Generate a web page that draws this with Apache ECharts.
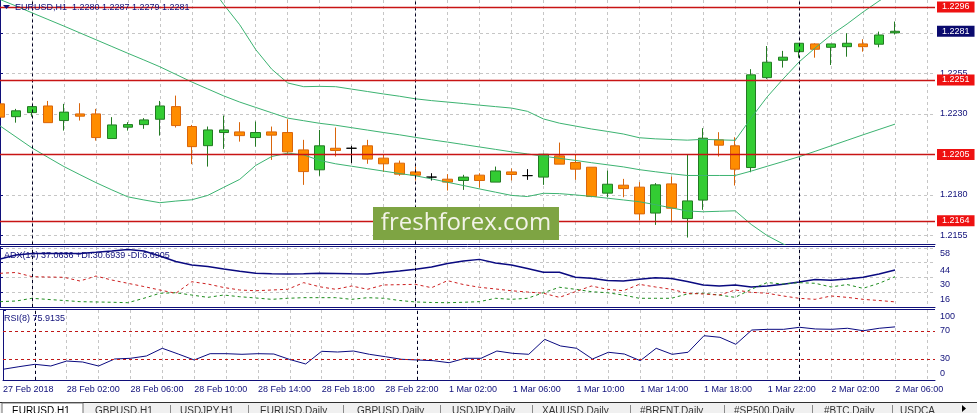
<!DOCTYPE html>
<html><head><meta charset="utf-8">
<script src="https://cdn.jsdelivr.net/npm/echarts@6/dist/echarts.min.js"></script>
<style>html,body{margin:0;padding:0;background:#fff;overflow:hidden}#c{width:977px;height:413px}</style>
</head><body><div id="c"></div>
<script>
const times = [
'2018-02-27 22:00','2018-02-27 23:00',
'2018-02-28 00:00','2018-02-28 01:00','2018-02-28 02:00','2018-02-28 03:00','2018-02-28 04:00','2018-02-28 05:00',
'2018-02-28 06:00','2018-02-28 07:00','2018-02-28 08:00','2018-02-28 09:00','2018-02-28 10:00','2018-02-28 11:00',
'2018-02-28 12:00','2018-02-28 13:00','2018-02-28 14:00','2018-02-28 15:00','2018-02-28 16:00','2018-02-28 17:00',
'2018-02-28 18:00','2018-02-28 19:00','2018-02-28 20:00','2018-02-28 21:00','2018-02-28 22:00','2018-02-28 23:00',
'2018-03-01 00:00','2018-03-01 01:00','2018-03-01 02:00','2018-03-01 03:00','2018-03-01 04:00','2018-03-01 05:00',
'2018-03-01 06:00','2018-03-01 07:00','2018-03-01 08:00','2018-03-01 09:00','2018-03-01 10:00','2018-03-01 11:00',
'2018-03-01 12:00','2018-03-01 13:00','2018-03-01 14:00','2018-03-01 15:00','2018-03-01 16:00','2018-03-01 17:00',
'2018-03-01 18:00','2018-03-01 19:00','2018-03-01 20:00','2018-03-01 21:00','2018-03-01 22:00','2018-03-01 23:00',
'2018-03-02 00:00','2018-03-02 01:00','2018-03-02 02:00','2018-03-02 03:00','2018-03-02 04:00','2018-03-02 05:00',
'2018-03-02 06:00'];

const open = [
1.22362,1.22283,1.22308,1.22349,1.22259,1.22300,1.22300,1.22148,1.22218,1.22234,
1.22267,1.22345,1.22222,1.22104,1.22185,1.22189,1.22154,1.22189,1.22185,1.22078,
1.21955,1.22088,1.22088,1.22103,1.22027,1.21996,1.21942,1.21910,1.21897,1.21889,
1.21922,1.21879,1.21942,1.21919,1.21910,1.22041,1.22000,1.21971,1.21811,1.21860,
1.21848,1.21688,1.21868,1.21654,1.21768,1.22140,1.22103,1.21969,1.22524,1.22631,
1.22684,1.22732,1.22711,1.22715,1.22732,1.22730,1.22800];
const close = [
1.22280,1.22319,1.22345,1.22246,1.22311,1.22286,1.22154,1.22232,1.22234,1.22263,
1.22349,1.22228,1.22098,1.22201,1.22201,1.22166,1.22185,1.22169,1.22066,1.21944,
1.22103,1.22074,1.22088,1.22021,1.21992,1.21928,1.21922,1.21910,1.21879,1.21910,
1.21889,1.21948,1.21926,1.21919,1.22051,1.21990,1.21959,1.21790,1.21866,1.21839,
1.21683,1.21862,1.21718,1.21763,1.22150,1.22107,1.21959,1.22541,1.22619,1.22650,
1.22736,1.22699,1.22732,1.22736,1.22715,1.22787,1.22810];
const low = [
1.22263,1.22246,1.22283,1.22246,1.22197,1.22259,1.22135,1.22148,1.22197,1.22208,
1.22166,1.22216,1.21990,1.21975,1.22084,1.22129,1.22098,1.22016,1.22053,1.21862,
1.21918,1.22037,1.21996,1.21992,1.21942,1.21918,1.21889,1.21889,1.21827,1.21831,
1.21845,1.21879,1.21889,1.21893,1.21862,1.21990,1.21893,1.21786,1.21786,1.21786,
1.21642,1.21615,1.21636,1.21537,1.21708,1.22037,1.21858,1.21940,1.22516,1.22586,
1.22647,1.22647,1.22602,1.22653,1.22684,1.22711,1.22790];
const high = [
1.22380,1.22331,1.22349,1.22380,1.22362,1.22366,1.22331,1.22280,1.22249,1.22274,
1.22380,1.22413,1.22232,1.22222,1.22290,1.22249,1.22253,1.22222,1.22267,1.22140,
1.22201,1.22216,1.22103,1.22140,1.22047,1.22012,1.21975,1.21934,1.21928,1.21924,
1.21934,1.21975,1.21963,1.21959,1.22055,1.22123,1.22047,1.21971,1.21950,1.21899,
1.21879,1.21873,1.21913,1.22051,1.22212,1.22187,1.22156,1.22576,1.22719,1.22689,
1.22736,1.22736,1.22732,1.22798,1.22761,1.22808,1.22870];

const bbUpper = [
1.23787,1.23773,1.23758,1.23734,1.23708,1.23676,1.23641,1.23602,1.23561,1.23496,
1.23429,1.23325,1.23225,1.23111,1.22975,1.22850,1.22697,1.22576,1.22491,1.22468,
1.22470,1.22468,1.22453,1.22438,1.22423,1.22409,1.22393,1.22382,1.22373,1.22364,
1.22354,1.22345,1.22336,1.22316,1.22269,1.22243,1.22225,1.22207,1.22192,1.22176,
1.22153,1.22146,1.22142,1.22138,1.22143,1.22140,1.22137,1.22275,1.22405,1.22516,
1.22621,1.22707,1.22787,1.22855,1.22929,1.22997,1.23059];
const bbMiddle = [
1.23006,1.22966,1.22924,1.22883,1.22842,1.22800,1.22758,1.22716,1.22674,1.22633,
1.22591,1.22544,1.22497,1.22454,1.22411,1.22373,1.22340,1.22307,1.22274,1.22258,
1.22242,1.22230,1.22215,1.22200,1.22185,1.22171,1.22155,1.22140,1.22126,1.22111,
1.22096,1.22081,1.22066,1.22053,1.22039,1.22026,1.22013,1.21999,1.21986,1.21973,
1.21956,1.21943,1.21931,1.21920,1.21920,1.21920,1.21920,1.21947,1.21977,1.22006,
1.22036,1.22069,1.22103,1.22137,1.22171,1.22204,1.22237];
const bbLower = [
1.22226,1.22158,1.22090,1.22032,1.21975,1.21925,1.21876,1.21831,1.21788,1.21769,
1.21752,1.21762,1.21770,1.21797,1.21847,1.21896,1.21982,1.22037,1.22058,1.22047,
1.22013,1.21992,1.21977,1.21962,1.21947,1.21932,1.21918,1.21899,1.21878,1.21858,
1.21837,1.21817,1.21797,1.21790,1.21810,1.21808,1.21800,1.21791,1.21780,1.21769,
1.21758,1.21740,1.21720,1.21701,1.21696,1.21699,1.21702,1.21618,1.21549,1.21497,
1.21451,1.21432,1.21419,1.21419,1.21412,1.21412,1.21414];

const adx = [
47.5,51.3,52.8,52.8,52.8,52.8,53.9,55.1,56.6,55.1,
50.4,45.1,41.8,40.4,38.0,35.8,33.9,33.5,33.2,33.5,
33.9,33.7,33.4,33.2,34.7,36.1,37.7,39.9,43.2,45.6,
47.2,43.7,41.8,38.5,34.9,34.9,30.1,29.1,27.0,26.6,
28.2,29.7,29.0,26.1,22.8,21.8,22.8,20.9,21.8,23.4,
25.6,28.0,27.2,28.5,30.1,33.2,37.0636];
const plusDi = [
6.9,7.5,10.1,9.0,8.0,6.9,6.6,6.3,5.9,10.1,
14.9,15.4,13.2,11.0,13.2,11.6,10.4,9.1,10.1,10.7,
10.7,10.7,9.1,10.7,10.1,8.0,6.6,6.1,5.9,6.3,
6.9,10.1,9.1,10.1,15.4,20.6,18.7,16.4,15.4,13.2,
10.1,10.1,10.1,14.2,14.9,13.2,11.0,18.7,25.1,23.7,
25.0,24.4,20.9,23.2,19.6,24.4,30.6939];
const minusDi = [
33.9,34.7,30.7,30.4,30.1,26.6,31.3,27.5,24.4,21.3,
18.0,14.9,25.9,23.7,20.4,18.0,17.3,18.0,18.7,25.0,
21.1,18.7,21.8,18.7,22.8,23.1,23.4,20.2,26.9,23.2,
20.6,19.0,17.3,16.1,14.9,11.0,16.4,21.8,18.7,17.3,
23.4,20.9,18.7,14.9,14.2,13.2,18.0,15.8,14.9,12.3,
10.1,9.1,12.3,11.0,9.1,8.0,6.6905];
const rsi = [
15.3,19.0,22.4,20.0,27.1,25.7,20.0,30.0,31.0,34.3,
45.3,37.1,28.6,37.6,37.6,36.7,37.6,37.1,29.3,22.9,
41.0,40.0,41.4,36.7,33.3,29.6,28.6,27.6,24.7,31.0,
31.0,41.4,38.1,36.7,58.1,48.6,45.3,30.0,39.6,37.1,
27.6,45.3,36.7,39.6,63.3,61.0,51.0,71.4,72.4,72.4,
75.3,72.9,72.4,73.9,70.4,73.9,75.9135];

const levels = [1.2296, 1.2251, 1.2205, 1.2164];
const lastPrice = 1.2281;
const priceTicks = [1.2155, 1.2180, 1.2205, 1.2230, 1.2255, 1.2280];
const adxTicks = [16, 30, 44, 58];
const rsiTicks = [0, 30, 70, 100];
const rsiLevels = [30, 70];
const daySeparators = ['2018-02-28 00:00', '2018-03-01 00:00', '2018-03-02 00:00'];
const tabs = ['EURUSD,H1','GBPUSD,H1','USDJPY,H1','EURUSD,Daily','GBPUSD,Daily','USDJPY,Daily','XAUUSD,Daily','#BRENT,Daily','#SP500,Daily','#BTC,Daily','USDCA'];

const NAVY = '#10107a';
const FONT = '"Liberation Sans", Arial, sans-serif';
const GRIDC = '#c6c6c6';
const MON = ['Jan','Feb','Mar','Apr','May','Jun','Jul','Aug','Sep','Oct','Nov','Dec'];
function parseT(s){const [d,t]=s.split(' ');const [Y,M,D]=d.split('-').map(Number);const [h,m]=t.split(':').map(Number);return Date.UTC(Y,M-1,D,h,m);}
const t0 = parseT(times[0]);
const xs = times.map(s => (parseT(s) - t0) / 3600000);
const sepX = daySeparators.map(s => (parseT(s) - t0) / 3600000);
const X_MAX = 58.5;
const pad = n => (n < 10 ? '0' : '') + n;
function fmtX(v){
  const r = Math.round(v);
  if (Math.abs(v - r) > 1e-6 || r % 4 !== 0) return '';
  const d = new Date(t0 + r * 3600000);
  if (r === 0) return d.getUTCDate() + ' ' + MON[d.getUTCMonth()] + ' ' + d.getUTCFullYear();
  return d.getUTCDate() + ' ' + MON[d.getUTCMonth()] + ' ' + pad(d.getUTCHours()) + ':' + pad(d.getUTCMinutes());
}
function xAxisCfg(gi, showLabels){
  return {type:'value', gridIndex:gi, min:0, max:X_MAX, interval:2,
    axisLine:{show:true, onZero:false, lineStyle:{color:NAVY, width:1}},
    axisTick:{show:false},
    axisLabel:{show:showLabels, formatter:fmtX, align:'left', color:NAVY, fontSize:9, fontFamily:FONT, margin:5, showMinLabel:true, showMaxLabel:false},
    splitLine:{show:true, showMaxLine:false, lineStyle:{color:GRIDC, type:[3,3], width:1}}};
}
const sepLines = sepX.map(x => ({xAxis:x, lineStyle:{color:'#000022', type:[3,3], width:1}, label:{show:false}}));

const boxLabel = bg => ({show:true, position:'end', distance:2, formatter: p => Number(p.value).toFixed(4), color:'#fff', backgroundColor:bg,
    padding:[1,5,0,5], fontSize:9, fontFamily:FONT, lineHeight:10, opacity:1});
const levelLines = levels.map(v => ({yAxis:v, lineStyle:{color:'#c81414', width:1.3, type:'solid'}, label:boxLabel('#ee1111')}));
const lastLine = {yAxis:lastPrice, lineStyle:{color:'rgba(0,0,0,0)', width:1, type:'solid'}, label:boxLabel('#0a0a6e')};

const candleData = xs.map((x,i) => [x, open[i], close[i], low[i], high[i]]);
const pair = arr => xs.map((x,i) => [x, arr[i]]);
const lineS = (name, arr, gi, color, width, type, extra) => Object.assign({
  name, type:'line', xAxisIndex:gi, yAxisIndex:gi, data:pair(arr), symbol:'none', showSymbol:false,
  lineStyle:{color, width, type}, silent:true, animation:false, z:3}, extra || {});

const ylab = {color:NAVY, fontSize:9, fontFamily:FONT};
const option = {
  animation:false,
  backgroundColor:'#ffffff',
  grid:[
    {left:0, right:42, top:0, height:244.5, show:false},
    {left:0, right:42, top:247, height:60, show:false},
    {left:0, right:42, top:310, height:70, show:false}
  ],
  xAxis:[xAxisCfg(0,false), xAxisCfg(1,false), xAxisCfg(2,true)],
  yAxis:[
    {type:'value', gridIndex:0, position:'right', min:1.21494, max:1.23003,
      axisLine:{show:true, lineStyle:{color:NAVY}},
      axisTick:{show:true, length:3, customValues:priceTicks, lineStyle:{color:NAVY}},
      axisLabel:Object.assign({customValues:priceTicks, formatter:v => v.toFixed(4), margin:5}, ylab),
      splitLine:{show:true, lineStyle:{color:GRIDC, type:[3,3]}}},
    {type:'value', gridIndex:1, position:'right', min:1.8, max:59,
      axisLine:{show:true, lineStyle:{color:NAVY}},
      axisTick:{show:true, length:3, customValues:adxTicks, lineStyle:{color:NAVY}},
      axisLabel:Object.assign({customValues:adxTicks, margin:5,
        formatter:v => (v === 58 ? '{b|' + v + '}' : '{a|' + v + '}'),
        rich:{a:Object.assign({padding:[15,0,0,0]}, ylab), b:Object.assign({padding:[10,0,0,0]}, ylab)}}, ylab),
      splitLine:{show:true, lineStyle:{color:GRIDC, type:[3,3]}}},
    {type:'value', gridIndex:2, position:'right', min:0, max:100,
      axisLine:{show:true, lineStyle:{color:NAVY}},
      axisTick:{show:true, length:3, customValues:rsiTicks, lineStyle:{color:NAVY}},
      axisLabel:Object.assign({customValues:rsiTicks, margin:5,
        formatter:v => (v === 100 ? '{t|' + v + '}' : v === 0 ? '{b|' + v + '}' : '{n|' + v + '}'),
        rich:{t:Object.assign({padding:[13,0,0,0]}, ylab), b:Object.assign({padding:[0,0,13,0]}, ylab), n:Object.assign({}, ylab)}}, ylab),
      splitLine:{show:false}}
  ],
  series:[
    {name:'EURUSD', type:'candlestick', xAxisIndex:0, yAxisIndex:0,
      dimensions:['time','open','close','lowest','highest'],
      encode:{x:'time', y:['open','close','lowest','highest']},
      data:candleData, barWidth:10, silent:true, z:2,
      itemStyle:{color:'#33cc33', color0:'#ff8c00', borderColor:'#237a23', borderColor0:'#d9650b', borderColorDoji:'#000000', borderWidth:1},
      markLine:{silent:true, precision:5, symbol:['none','none'], animation:false, data:[...sepLines, ...levelLines, lastLine]}},
    lineS('BB upper', bbUpper, 0, '#3cb371', 1, 'solid'),
    lineS('BB middle', bbMiddle, 0, '#3cb371', 1, 'solid'),
    lineS('BB lower', bbLower, 0, '#3cb371', 1, 'solid'),
    lineS('ADX', adx, 1, '#0a0a80', 1.5, 'solid', {markLine:{silent:true, precision:5, symbol:['none','none'], animation:false, data:sepLines}}),
    lineS('+DI', plusDi, 1, '#1f8c1f', 1, [3,3]),
    lineS('-DI', minusDi, 1, '#cc2020', 1, [3,3]),
    lineS('RSI', rsi, 2, '#0a0a80', 1, 'solid', {markLine:{silent:true, precision:5, symbol:['none','none'], animation:false,
      data:[...sepLines, ...rsiLevels.map(v => ({yAxis:v, lineStyle:{color:'#c01818', type:[3,3], width:1}, label:{show:false}}))]}})
  ],
  graphic:[]
};

const n = adx.length - 1;
const g = [];
[246.5, 309.5].forEach(y => g.push({type:'line', shape:{x1:0, y1:y, x2:935, y2:y}, style:{stroke:NAVY, lineWidth:1}, z:100}));
g.push({type:'polygon', shape:{points:[[3,5],[10,5],[6.5,9]]}, style:{fill:NAVY}, z:100});
g.push({type:'text', x:15, y:7.5, style:{text:'EURUSD,H1  ' + open[n].toFixed(4) + ' ' + high[n].toFixed(4) + ' ' + low[n].toFixed(4) + ' ' + close[n].toFixed(4),
  fill:NAVY, font:'9px ' + FONT, verticalAlign:'middle'}, z:100});
g.push({type:'text', x:4, y:255.5, style:{text:'ADX(14) ' + adx[n].toFixed(4) + ' +DI:' + plusDi[n].toFixed(4) + ' -DI:' + minusDi[n].toFixed(4),
  fill:NAVY, font:'9px ' + FONT, verticalAlign:'middle'}, z:100});
g.push({type:'text', x:4, y:319, style:{text:'RSI(8) ' + rsi[n].toFixed(4), fill:NAVY, font:'9px ' + FONT, verticalAlign:'middle'}, z:100});
g.push({type:'rect', shape:{x:373, y:207, width:186, height:33}, style:{fill:'#7ea443'}, z:100});
g.push({type:'text', x:466, y:223, style:{text:'freshforex.com', fill:'#f3f3e8', font:'24px "Open Sans", sans-serif', align:'center', verticalAlign:'middle'}, z:101});
g.push({type:'rect', shape:{x:0, y:403, width:977, height:10}, style:{fill:'#f0f0f0'}, z:100});
g.push({type:'line', shape:{x1:0, y1:402.5, x2:977, y2:402.5}, style:{stroke:'#303030', lineWidth:1}, z:101});
g.push({type:'rect', shape:{x:2, y:403, width:81, height:11}, style:{fill:'#ffffff', stroke:'#707070', lineWidth:1}, z:101});
const tabX = [12, 95, 180, 260, 357, 452, 542, 640, 734, 824, 900];
const sepTab = [170, 248, 343, 440, 532, 630, 724, 812, 892];
sepTab.forEach(x => g.push({type:'line', shape:{x1:x+0.5, y1:405, x2:x+0.5, y2:413}, style:{stroke:'#8a8a8a', lineWidth:1}, z:101}));
tabs.forEach((t,i) => g.push({type:'text', x:tabX[i], y:406.5, style:{text:t, fill:i===0 ? '#000000' : '#333333', font:'10px ' + FONT, verticalAlign:'top'}, z:102}));
g.push({type:'polygon', shape:{points:[[962,405],[962,412],[966,408.5]]}, style:{fill:'#000'}, z:102});
option.graphic = g;

const chart = echarts.init(document.getElementById('c'), null, {renderer:'canvas'});
chart.setOption(option);
</script>
</body></html>
